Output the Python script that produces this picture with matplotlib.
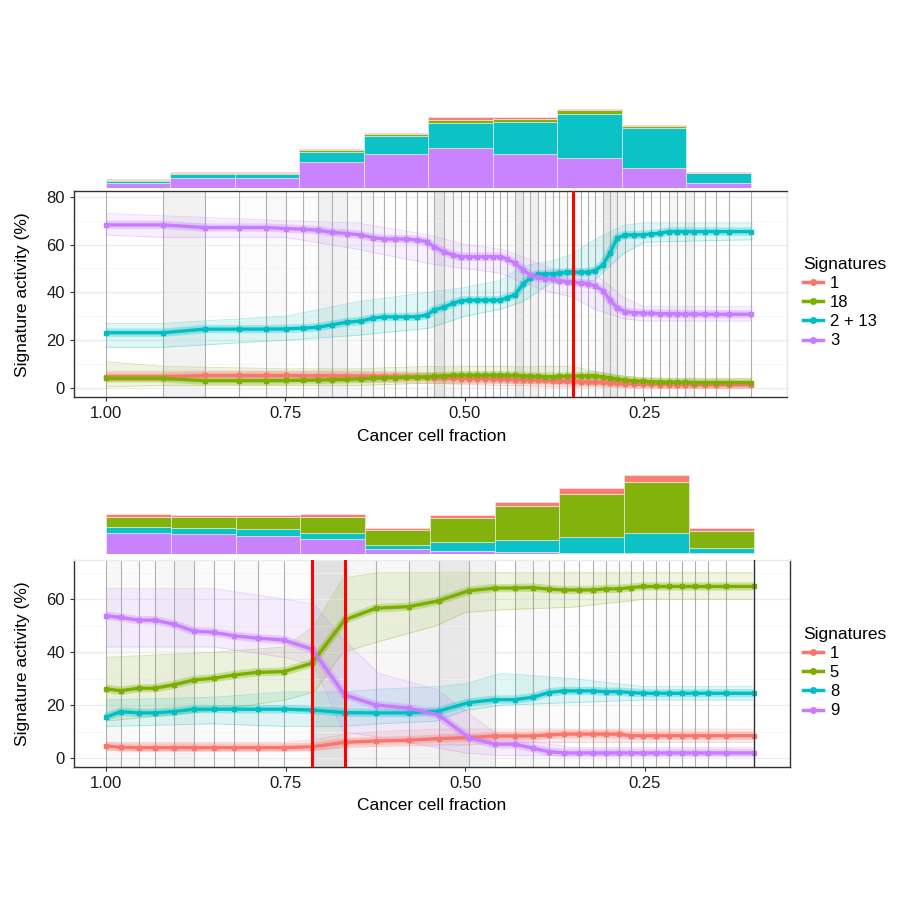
import numpy as np
import matplotlib
matplotlib.use('Agg')
import matplotlib.pyplot as plt
from matplotlib.lines import Line2D

plt.rcParams['font.family'] = ['Liberation Sans', 'DejaVu Sans']

RED, GREEN, CYAN, PURPLE = '#F8766D', '#7CAE00', '#00BFC4', '#C77CFF'

# ---------------- top sample ----------------
top_ccf = [1.000, 0.9206, 0.8621, 0.8148, 0.7772, 0.7493, 0.7256, 0.7047, 0.6852, 0.6643,
           0.6448, 0.6281, 0.6128, 0.5975, 0.5822, 0.5669, 0.5529, 0.5432, 0.5292, 0.5167,
           0.5056, 0.4944, 0.4833, 0.4721, 0.4610, 0.4513, 0.4415, 0.4304, 0.4192, 0.4095,
           0.3983, 0.3886, 0.3774, 0.3691, 0.3579, 0.3496, 0.3384, 0.3287, 0.3187, 0.3078,
           0.2981, 0.2883, 0.2772, 0.2646, 0.2521, 0.2409, 0.2284, 0.2159, 0.2047, 0.1936,
           0.1811, 0.1657, 0.1504, 0.1323, 0.1017]
top_sig1 = [4.7, 4.7, 5.2, 5.2, 5.2, 5.2, 5.1, 5.1, 5.1, 5.0,
            5.0, 4.9, 4.9, 4.8, 4.7, 4.6, 4.5, 4.3, 4.1, 4.0,
            3.9, 3.8, 3.8, 3.8, 3.7, 3.7, 3.6, 3.5, 3.4, 3.3,
            3.2, 3.1, 3.0, 2.9, 2.8, 2.7, 2.6, 2.5, 2.4, 2.3,
            2.2, 2.0, 1.8, 1.6, 1.5, 1.5, 1.4, 1.4, 1.3, 1.3,
            1.3, 1.3, 1.3, 1.3, 1.3]
top_sig18 = [4.0, 4.0, 3.0, 3.0, 3.0, 3.1, 3.2, 3.3, 3.5, 3.6,
             3.8, 4.0, 4.2, 4.3, 4.4, 4.5, 4.6, 4.8, 5.0, 5.2,
             5.3, 5.3, 5.3, 5.3, 5.3, 5.3, 5.2, 5.2, 5.0, 4.9,
             4.8, 4.7, 4.7, 4.8, 4.9, 5.0, 5.0, 5.1, 5.1, 4.6,
             4.2, 3.7, 3.3, 3.0, 2.8, 2.6, 2.5, 2.4, 2.3, 2.3,
             2.2, 2.2, 2.2, 2.2, 2.2]
top_sig213 = [23.1, 23.1, 24.6, 24.6, 24.6, 24.7, 25.0, 25.4, 26.4, 27.5,
              28.0, 29.2, 29.7, 29.7, 29.7, 29.8, 30.5, 32.6, 33.8, 35.4,
              36.5, 36.7, 36.7, 36.7, 36.7, 36.7, 37.8, 38.9, 43.4, 45.9,
              47.6, 47.6, 47.8, 48.0, 48.3, 48.4, 48.4, 48.5, 49.1, 51.5,
              56.4, 62.6, 64.0, 64.0, 64.1, 64.4, 64.7, 65.4, 65.4, 65.4,
              65.4, 65.4, 65.4, 65.4, 65.4]
top_sig3 = [68.2, 68.2, 67.1, 67.1, 67.1, 66.7, 66.4, 66.0, 65.1, 64.6,
            64.0, 62.9, 62.3, 62.3, 62.3, 61.9, 61.2, 59.1, 57.0, 55.6,
            54.9, 54.9, 54.9, 54.9, 54.9, 54.9, 54.0, 52.2, 49.4, 47.3,
            46.2, 45.6, 45.6, 44.9, 44.5, 44.2, 43.8, 43.5, 42.8, 40.6,
            36.8, 33.6, 31.9, 31.5, 31.3, 31.2, 31.1, 31.0, 31.0, 30.9,
            30.9, 30.8, 30.8, 30.8, 30.8]
top_changepoints = [0.3496]
# probability of a changepoint in each interval between time points
top_cp_prob = [0, 0.25, 0, 0.05, 0.12, 0, 0.05, 0.3, 0.25, 0.1,
               0.15, 0.05, 0, 0, 0, 0, 0.1, 0.5, 0.2, 0.1,
               0.05, 0, 0, 0, 0, 0, 0.1, 0.45, 0.15, 0.3,
               0.1, 0.05, 0, 0.05, 0, 0.05, 0, 0.05, 0.1, 0.45,
               0.4, 0.25, 0.1, 0, 0, 0, 0, 0.15, 0.05, 0.25,
               0, 0, 0, 0]
# bootstrap spread
top_band_x = [1.0, 0.92, 0.75, 0.65, 0.55, 0.50, 0.45, 0.42, 0.38, 0.35, 0.32, 0.28, 0.25, 0.10]
top_lo1 = [3, 3, 3, 2.5, 2, 1.5, 1, 1, 0.5, 0.5, 0.5, 0, 0, 0]
top_hi1 = [7, 7, 7, 7, 6.5, 6, 6, 5.5, 5, 5, 4, 3, 3, 3]
top_lo18 = [0.5, 1, 1, 1, 2, 2, 2, 2, 2, 2, 1.5, 1, 1, 1]
top_hi18 = [11, 9, 8, 8, 9, 9, 9, 9, 9, 9, 7, 5, 4, 4]
top_lo213 = [17, 17, 20, 22, 25, 30, 33, 36, 44, 44, 45, 56, 61, 62]
top_hi213 = [27, 27, 30, 36, 40, 42, 45, 51, 53, 56, 62, 68, 69, 69]
top_lo3 = [64, 63, 63, 58, 52, 50, 48, 44, 40, 38, 33, 29, 28, 28]
top_hi3 = [73, 72, 70, 69, 64, 60, 58, 55, 50, 49, 48, 38, 34, 34]
# mutation histogram (stacked, per ccf bin)
top_hist3 = [16, 31, 31, 79, 103, 121, 103, 91, 59, 14]
top_hist213 = [5, 12, 12, 30, 52, 74, 95, 131, 122, 30]
top_hist18 = [2, 3, 3, 5, 6, 10, 9, 11, 5, 2]
top_hist1 = [3, 2, 2, 4, 5, 9, 6, 5, 3, 2]

# ---------------- bottom sample ----------------
bot_ccf = [1.000, 0.9795, 0.9545, 0.9322, 0.9057, 0.8779, 0.8500, 0.8221, 0.7887, 0.7525,
           0.7135, 0.6675, 0.6243, 0.5784, 0.5366, 0.4948, 0.4586, 0.4308, 0.4057, 0.3834,
           0.3625, 0.3416, 0.3221, 0.3040, 0.2859, 0.2692, 0.2525, 0.2344, 0.2163, 0.1982,
           0.1801, 0.1620, 0.1369, 0.0979]
bot_sig1 = [4.6, 4.1, 4.0, 4.0, 4.0, 4.0, 4.0, 4.0, 4.0, 4.0,
            4.3, 6.0, 6.5, 6.8, 7.4, 7.8, 8.4, 8.4, 8.4, 8.8,
            9.1, 9.1, 9.1, 9.1, 9.1, 8.5, 8.5, 8.5, 8.5, 8.5,
            8.5, 8.5, 8.5, 8.5]
bot_sig5 = [26.2, 25.5, 26.4, 26.4, 27.7, 29.5, 30.2, 31.4, 32.4, 32.7,
            35.8, 52.2, 56.6, 57.2, 59.4, 63.2, 64.2, 64.2, 64.4, 63.8,
            63.5, 63.5, 63.5, 63.9, 63.9, 64.4, 64.8, 64.8, 64.8, 64.8,
            64.8, 64.8, 64.8, 64.8]
bot_sig8 = [15.5, 17.6, 17.1, 17.1, 17.6, 18.5, 18.5, 18.5, 18.5, 18.5,
            18.2, 17.2, 17.1, 17.1, 17.8, 21.0, 22.1, 22.1, 23.0, 24.8,
            25.4, 25.4, 25.4, 25.1, 25.1, 24.8, 24.5, 24.5, 24.5, 24.5,
            24.5, 24.5, 24.5, 24.5]
bot_sig9 = [53.8, 53.1, 52.1, 52.1, 50.6, 48.0, 47.5, 46.2, 45.3, 44.6,
            41.2, 23.9, 20.1, 18.9, 16.3, 7.8, 5.3, 5.3, 3.8, 2.5,
            2.0, 2.0, 2.0, 2.0, 2.0, 2.0, 2.0, 2.0, 2.0, 2.0,
            2.0, 2.0, 2.0, 2.0]
bot_changepoints = [0.7135, 0.6675]
bot_cp_prob = [0.15, 0.1, 0.05, 0.15, 0.25, 0.1, 0.05, 0.1, 0.05, 0.05,
               0.6, 0.2, 0.15, 0.25, 0.45, 0.25, 0, 0.15, 0.12, 0.08,
               0.05, 0, 0.08, 0.08, 0.05, 0, 0, 0, 0, 0,
               0, 0, 0]
bot_band_x = [1.0, 0.85, 0.75, 0.71, 0.67, 0.62, 0.54, 0.50, 0.45, 0.35, 0.25, 0.10]
bot_lo1 = [3, 3, 3, 3, 4, 4.5, 5, 5, 6, 6, 6, 6]
bot_hi1 = [6, 6, 6, 7, 9, 10, 11, 11, 11, 11, 11, 11]
bot_lo5 = [14, 18, 22, 25, 40, 44, 50, 55, 56, 57, 60, 60]
bot_hi5 = [38, 40, 42, 50, 68, 70, 70, 70, 70, 70, 70, 70]
bot_lo8 = [12, 13, 12, 12, 12, 13, 14, 18, 20, 21, 22, 22]
bot_hi8 = [22, 23, 25, 25, 25, 26, 27, 28, 32, 30, 27, 27]
bot_lo9 = [42, 42, 38, 35, 10, 8, 4, 2, 1, 1, 1, 1]
bot_hi9 = [64, 64, 60, 58, 45, 32, 26, 18, 8, 4, 4, 4]
bot_hist9 = [63, 59, 55, 44, 15, 10, 6, 4, 4, 2]
bot_hist8 = [18, 20, 20, 19, 13, 25, 35, 48, 58, 17]
bot_hist5 = [31, 33, 37, 49, 45, 74, 102, 127, 153, 51]
bot_hist1 = [7, 6, 6, 8, 5, 9, 14, 18, 22, 8]

fig = plt.figure(figsize=(9, 9), dpi=100)


def draw_hist(ax, ccf, stacks, cols, xlim):
    edges = np.linspace(ccf[0], ccf[-1], len(stacks[0]) + 1)
    bottom = np.zeros(len(stacks[0]))
    for vals, c in zip(stacks, cols):
        ax.bar(edges[:-1], vals, width=edges[1:] - edges[:-1], bottom=bottom,
               align='edge', color=c, alpha=0.95, edgecolor='#f4f4f4', linewidth=0.4)
        bottom = bottom + np.array(vals)
    ax.set_xlim(*xlim)
    ax.set_ylim(0, 264)
    ax.axis('off')


def draw_panel(ax, ccf, series, bands, band_x, cp_prob, cps, xlim, ylim, yticks):
    ax.set_xlim(*xlim)
    ax.set_ylim(*ylim)
    for i, p in enumerate(cp_prob):
        if p > 0:
            ax.axvspan(ccf[i], ccf[i + 1], color='black', alpha=p * 0.2, lw=0, zorder=0)
    for y in yticks:
        ax.axhline(y, color='#ebebeb', lw=0.9, zorder=0.5)
        ax.axhline(y + 10, color='#f3f3f3', lw=0.5, zorder=0.5)
    for x in ccf:
        ax.axvline(x, color='#b0b0b0', lw=0.8, zorder=1)
    for (lo, hi), (vals, c) in zip(bands, series):
        ax.fill_between(band_x, lo, hi, color=c, alpha=0.12, lw=0, zorder=2)
        ax.plot(band_x, lo, color=c, alpha=0.3, lw=0.6, zorder=2)
        ax.plot(band_x, hi, color=c, alpha=0.3, lw=0.6, zorder=2)
    for vals, c in series:
        ax.plot(ccf, vals, color=c, alpha=0.3, lw=6, solid_capstyle='butt', zorder=3)
    for vals, c in series:
        ax.plot(ccf, vals, color=c, lw=2.4, marker='s', ms=2.5, zorder=4)
    for cp in cps:
        ax.axvline(cp, color='#ff0000', lw=2.2, zorder=5)
    ax.set_yticks(yticks)
    ax.set_xticks([1.0, 0.75, 0.5, 0.25])
    ax.set_xticklabels(['1.00', '0.75', '0.50', '0.25'])
    ax.tick_params(length=3, color='#333333', labelsize=12, labelcolor='#1a1a1a')
    for s in ax.spines.values():
        s.set_color('#333333')
        s.set_linewidth(1.0)


L, W = 0.0822, 0.7922
top_xlim = (1.0446, 0.0515)
bot_xlim = (1.0446, 0.0474)

ax_h1 = fig.add_axes([L, 0.7911, W, 0.0978])
draw_hist(ax_h1, top_ccf, [top_hist3, top_hist213, top_hist18, top_hist1],
          [PURPLE, CYAN, GREEN, RED], top_xlim)

ax1 = fig.add_axes([L, 0.5589, W, 0.2289])
draw_panel(ax1, top_ccf,
           [(top_sig1, RED), (top_sig18, GREEN), (top_sig213, CYAN), (top_sig3, PURPLE)],
           [(top_lo1, top_hi1), (top_lo18, top_hi18), (top_lo213, top_hi213), (top_lo3, top_hi3)],
           top_band_x, top_cp_prob, top_changepoints, top_xlim, (-3.8, 82.4), [0, 20, 40, 60, 80])
ax1.spines['right'].set_color('#e6e6e6')

ax_h2 = fig.add_axes([L, 0.3844, 0.7956, 0.0978])
draw_hist(ax_h2, bot_ccf, [bot_hist9, bot_hist8, bot_hist5, bot_hist1],
          [PURPLE, CYAN, GREEN, RED], bot_xlim)

ax2 = fig.add_axes([L, 0.1478, 0.7956, 0.23])
draw_panel(ax2, bot_ccf,
           [(bot_sig1, RED), (bot_sig5, GREEN), (bot_sig8, CYAN), (bot_sig9, PURPLE)],
           [(bot_lo1, bot_hi1), (bot_lo5, bot_hi5), (bot_lo8, bot_hi8), (bot_lo9, bot_hi9)],
           bot_band_x, bot_cp_prob, bot_changepoints, bot_xlim, (-3.3, 74.8), [0, 20, 40, 60])
ax2.axvline(bot_ccf[-1], color='#333333', lw=1.0, zorder=5)
ax2.spines['top'].set_color('#ebebeb')

for yc in (0.673, 0.2628):
    fig.text(0.025, yc, 'Signature activity (%)', rotation=90, ha='center', va='center', fontsize=12.5)
for yc in (1 - 437 / 900, 1 - 806 / 900):
    fig.text(0.48, yc, 'Cancer cell fraction', ha='center', va='center', fontsize=12.5)


def legend(labels, y):
    handles = [Line2D([0], [0], color=c, lw=2.5, marker='o', ms=4)
               for c in (RED, GREEN, CYAN, PURPLE)]
    lg = fig.legend(handles, labels, title='Signatures', loc='upper left',
                    bbox_to_anchor=(0.885, y), frameon=False, fontsize=12,
                    title_fontsize=12.5, handlelength=1.2, handletextpad=0.4,
                    labelspacing=0.25, borderaxespad=0)
    lg._legend_box.align = 'left'


legend(['1', '18', '2 + 13', '3'], 1 - 250 / 900)
legend(['1', '5', '8', '9'], 1 - 620 / 900)

fig.savefig('out.png', dpi=100)
